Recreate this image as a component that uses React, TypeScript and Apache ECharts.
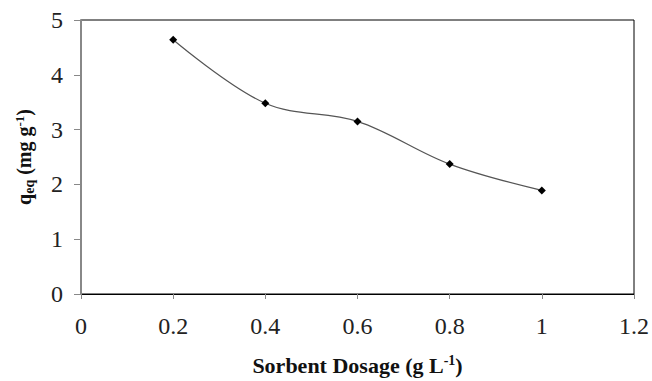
import React, { useEffect, useRef } from "react";
import * as echarts from "echarts";

const dosage = [0.2, 0.4, 0.6, 0.8, 1.0];
const qeq = [4.64, 3.48, 3.15, 2.37, 1.89];

export default function App() {
  const ref = useRef<HTMLDivElement>(null);
  useEffect(() => {
    if (!ref.current) return;
    const chart = echarts.init(ref.current, null, { renderer: "svg" });
    const font = "'Liberation Serif', 'Times New Roman', serif";
    chart.setOption({
      animation: false,
      backgroundColor: "#fff",
      grid: {
        left: 81,
        right: 18,
        top: 20,
        bottom: 81,
        show: true,
        borderColor: "#000",
        borderWidth: 1,
      },
      xAxis: {
        type: "value",
        min: 0,
        max: 1.2,
        interval: 0.2,
        axisLine: { show: true, lineStyle: { color: "#000", width: 1 } },
        axisTick: { show: true, inside: false, length: 5, lineStyle: { color: "#888" } },
        splitLine: { show: false },
        axisLabel: {
          color: "#222",
          fontFamily: font,
          fontSize: 24,
          margin: 20,
          formatter: (v: number) => String(Math.round(v * 10) / 10),
        },
        name: "{b|Sorbent Dosage (g L}{sup|-1}{b|)}",
        nameLocation: "middle",
        nameGap: 59,
        nameTextStyle: {
          rich: {
            b: { fontFamily: font, fontSize: 22, fontWeight: "bold", color: "#111" },
            sup: { fontFamily: font, fontSize: 14, fontWeight: "bold", color: "#111", padding: [0, 0, 10, 0] },
          },
        },
      },
      yAxis: {
        type: "value",
        min: 0,
        max: 5,
        interval: 1,
        axisLine: { show: true, lineStyle: { color: "#888", width: 2 } },
        axisTick: { show: true, inside: false, length: 7, lineStyle: { color: "#888" } },
        splitLine: { show: false },
        axisLabel: {
          color: "#222",
          fontFamily: font,
          fontSize: 24,
          margin: 18,
        },
        name: "{b|q}{sub|eq}{b| (mg g}{sup|-1}{b|)}",
        nameLocation: "middle",
        nameRotate: 90,
        nameGap: 45,
        nameTextStyle: {
          rich: {
            b: { fontFamily: font, fontSize: 20, fontWeight: "bold", color: "#111" },
            sub: { fontFamily: font, fontSize: 14, fontWeight: "bold", color: "#111", padding: [10, 0, 0, 0] },
            sup: { fontFamily: font, fontSize: 13, fontWeight: "bold", color: "#111", padding: [0, 0, 10, 0] },
          },
        },
      },
      series: [
        {
          type: "line",
          data: dosage.map((d, i) => [d, qeq[i]]),
          smooth: 0.35,
          symbol: "diamond",
          symbolSize: 8,
          itemStyle: { color: "#000" },
          lineStyle: { color: "#555", width: 1.2 },
        },
      ],
    });
    return () => chart.dispose();
  }, []);
  return <div ref={ref} style={{ width: 652, height: 381, position: "absolute", left: 0, top: 0 }} />;
}
